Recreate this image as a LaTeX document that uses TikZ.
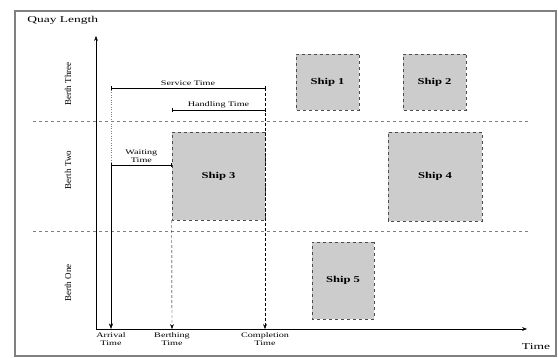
\documentclass[tikz,border=0pt]{standalone}
\usepackage{fontspec}
\setmainfont{Liberation Serif}
\usetikzlibrary{arrows.meta,positioning,calc}

\begin{document}
\begin{tikzpicture}[x=1pt,y=-1pt,>=Stealth,
   ship/.style={draw=black!70,dashed,fill=gray!40,font=\bfseries\small,xscale=1.4,
     inner sep=0pt},
   lab/.style={font=\scriptsize,xscale=1.45,align=center,inner sep=1pt},
   berth/.style={font=\small,rotate=90},
   sep/.style={gray,dashed,thick},
   span/.style={{Bar[width=4pt]}-{Bar[width=4pt]},thin}]
  \useasboundingbox (0,0) rectangle (558,358);
  \draw[gray,line width=1.6pt] (15,11) rectangle (556,356);
  % axes
  \coordinate (O) at (96,329);
  \draw[->,thin] (O) -- (96,36) coordinate (ytop);
  \draw[->,thin] (O) -- (527,329) coordinate (xend);
  \node[anchor=west,font=\small,xscale=1.5] (qlen) at (22,20) {Quay Length};
  \node[font=\small,xscale=1.5] (tlab) at (536,347) {Time};
  % berths
  \draw[sep] (33,121) -- (528,121);
  \draw[sep] (33,231) -- (528,231);
  \node[berth] (b3) at (68,84) {Berth Three};
  \node[berth] (b2) at (68,170) {Berth Two};
  \node[berth] (b1) at (68,283) {Berth One};
  % ships
  \node[ship,minimum width=66.4pt,minimum height=88pt] (ship3) at (218.5,176) {Ship 3};
  \node[ship,minimum width=45pt,minimum height=56pt] (ship1) at (327.5,82) {Ship 1};
  \node[ship,minimum width=45pt,minimum height=56pt] (ship2) at (434.5,82) {Ship 2};
  \node[ship,minimum width=67.1pt,minimum height=89pt] (ship4) at (435,176.5) {Ship 4};
  \node[ship,minimum width=44.3pt,minimum height=77pt] (ship5) at (343,280.5) {Ship 5};
  % time marks
  \coordinate (arr) at (111,329);
  \coordinate (ber) at (172,329);
  \coordinate (com) at (265,329);
  \coordinate (wait) at (111,165);
  \draw[dotted,gray] (111,90) -- (wait);
  \draw[->,semithick] (wait) -- (arr);
  \draw[->,thin,densely dashed] (ship3.south west) -- (ber);
  \draw[->,thin,densely dashed] (265,88) -- (com);
  \node[lab,below=2pt of arr] (arrl) {Arrival\\Time};
  \node[lab,below=2pt of ber] (berl) {Berthing\\Time};
  \node[lab,below=2pt of com] (coml) {Completion\\Time};
  % spans
  \draw[span] (111,88) -- node[lab,above=1pt] (serv) {Service Time} (265,88);
  \draw[span] (172,110) -- node[lab,above=1pt] (hand) {Handling Time} (265,110);
  \draw[span] (wait) -- node[lab,above=1pt] (wlab) {Waiting\\Time} (ship3.west |- wait);
\end{tikzpicture}
\end{document}
